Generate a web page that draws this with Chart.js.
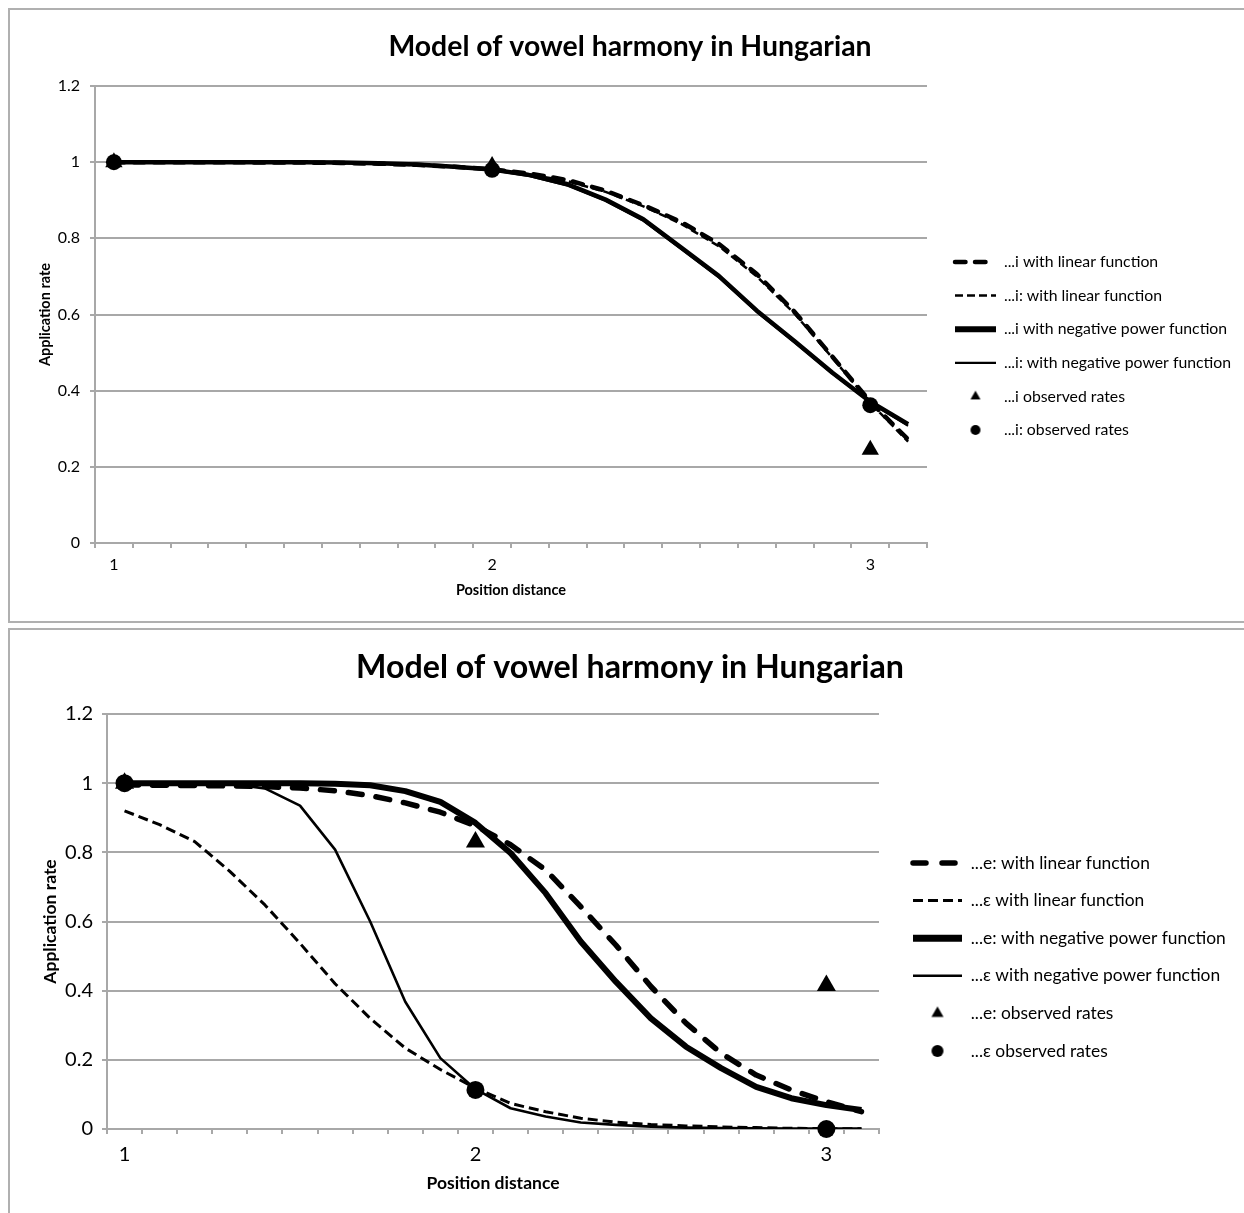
<!DOCTYPE html>
<html>
<head>
<meta charset="utf-8">
<script src="https://cdn.jsdelivr.net/npm/chart.js@4.4.1/dist/chart.umd.min.js"></script>
<style>
  html, body { margin: 0; padding: 0; background: #ffffff; width: 1244px; height: 1213px; overflow: hidden; position: relative; }
  .box { position: absolute; left: 8px; width: 1240px; border: 2px solid #b0b0b0; background: #fff; }
  #box1 { top: 8px; height: 611px; }
  #box2 { top: 628px; height: 600px; }
  canvas { display: block; }
</style>
</head>
<body>
<div class="box" id="box1"><canvas id="c1" width="1240" height="611"></canvas></div>
<div class="box" id="box2"><canvas id="c2" width="1240" height="583"></canvas></div>
<script>
// ---------------- DATA ----------------
const categories = ['1','1.1','1.2','1.3','1.4','1.5','1.6','1.7','1.8','1.9','2','2.1','2.2','2.3','2.4','2.5','2.6','2.7','2.8','2.9','3','3.1'];
const tickLabels = ['1','2','3'];
const yTicks = { min: 0, max: 1.2, step: 0.2 };

const chartTitle = 'Model of vowel harmony in Hungarian';
const xTitle = 'Position distance';
const yTitle = 'Application rate';

// top chart (i)
const topLabels = ['...i with linear function', '...i: with linear function', '...i with negative power function', '...i: with negative power function', '...i observed rates', '...i: observed rates'];
const iLinear        = [1.000, 1.000, 1.000, 1.000, 0.999, 0.999, 0.998, 0.996, 0.993, 0.988, 0.981, 0.970, 0.953, 0.925, 0.887, 0.843, 0.785, 0.706, 0.607, 0.489, 0.371, 0.272];
const iColonLinear   = [1.000, 1.000, 1.000, 1.000, 1.000, 0.999, 0.998, 0.996, 0.992, 0.987, 0.980, 0.968, 0.950, 0.922, 0.884, 0.838, 0.779, 0.700, 0.602, 0.486, 0.368, 0.266];
const iPower         = [1.000, 1.000, 1.000, 1.000, 1.000, 1.000, 0.999, 0.997, 0.994, 0.988, 0.981, 0.966, 0.942, 0.902, 0.850, 0.776, 0.701, 0.610, 0.530, 0.447, 0.371, 0.312];
const iColonPower    = [1.000, 1.000, 1.000, 1.000, 1.000, 1.000, 0.999, 0.997, 0.993, 0.987, 0.979, 0.963, 0.938, 0.898, 0.846, 0.772, 0.697, 0.607, 0.527, 0.445, 0.369, 0.308];
const iObserved      = [1.000, null, null, null, null, null, null, null, null, null, 0.990, null, null, null, null, null, null, null, null, null, 0.245, null];
const iColonObserved = [1.000, null, null, null, null, null, null, null, null, null, 0.980, null, null, null, null, null, null, null, null, null, 0.362, null];

// bottom chart (e / ɛ)
const bottomLabels = ['...e: with linear function', '...ɛ with linear function', '...e: with negative power function', '...ɛ with negative power function', '...e: observed rates', '...ɛ observed rates'];
const eLinear     = [0.995, 0.994, 0.993, 0.992, 0.990, 0.986, 0.978, 0.964, 0.943, 0.916, 0.877, 0.822, 0.749, 0.643, 0.532, 0.412, 0.306, 0.219, 0.156, 0.113, 0.079, 0.050];
const epsLinear   = [0.920, 0.880, 0.831, 0.745, 0.648, 0.537, 0.420, 0.320, 0.234, 0.172, 0.118, 0.074, 0.050, 0.031, 0.020, 0.013, 0.009, 0.006, 0.004, 0.002, 0.001, 0.001];
const ePower      = [1.000, 1.000, 1.000, 1.000, 1.000, 1.000, 0.998, 0.994, 0.977, 0.946, 0.885, 0.798, 0.682, 0.542, 0.426, 0.320, 0.238, 0.176, 0.122, 0.089, 0.069, 0.055];
const epsPower    = [1.000, 1.000, 1.000, 0.998, 0.985, 0.935, 0.808, 0.600, 0.368, 0.205, 0.115, 0.060, 0.036, 0.019, 0.012, 0.007, 0.004, 0.003, 0.002, 0.001, 0.001, 0.001];
const eObserved   = [1.000, null, null, null, null, null, null, null, null, null, 0.830, null, null, null, null, null, null, null, null, null, 0.415, null];
const epsObserved = [1.000, null, null, null, null, null, null, null, null, null, 0.113, null, null, null, null, null, null, null, null, null, 0.000, null];

// ---------------- STYLE / LAYOUT ----------------
const FONT = "Lato, 'Open Sans', 'DejaVu Sans', sans-serif";
const GRID = '#a8a8a8';
const CANVAS_W = 1240;

function markerCanvas(style, r) {
  const c = document.createElement('canvas');
  const s = Math.ceil(2 * r + 4);
  c.width = s; c.height = s;
  const g = c.getContext('2d');
  g.fillStyle = '#000';
  g.strokeStyle = '#000';
  if (Chart.helpers && Chart.helpers.drawPoint) {
    Chart.helpers.drawPoint(g, { pointStyle: style, radius: r, borderWidth: 0, rotation: 0 }, s / 2, s / 2);
  } else {
    g.beginPath();
    if (style === 'triangle') {
      for (let k = 0; k < 3; k++) {
        const a = k * 2 * Math.PI / 3;
        const px = s / 2 + Math.sin(a) * r, py = s / 2 - Math.cos(a) * r;
        k ? g.lineTo(px, py) : g.moveTo(px, py);
      }
      g.closePath();
    } else {
      g.arc(s / 2, s / 2, r, 0, Math.PI * 2);
    }
    g.fill();
  }
  return c;
}

function buildChart(canvasId, labels, seriesData, styles, L) {
  const datasets = seriesData.map((data, i) => {
    const st = styles[i];
    if (st.kind === 'line') {
      return {
        label: labels[i], data: data, borderColor: '#000', backgroundColor: '#000',
        borderWidth: st.width, borderDash: st.dash, borderCapStyle: st.cap, borderJoinStyle: 'round',
        pointRadius: 0, pointHoverRadius: 0, tension: 0, fill: false, order: 1
      };
    }
    return {
      label: labels[i], data: data, showLine: false, pointStyle: st.style,
      pointRadius: st.radius, pointHoverRadius: st.radius,
      pointBackgroundColor: '#000', pointBorderColor: '#000', pointBorderWidth: 0,
      borderColor: '#000', backgroundColor: '#000', order: 0, clip: false
    };
  });

  const legendMarkers = styles.map(st => st.kind === 'point' ? markerCanvas(st.style, st.legendRadius) : null);

  new Chart(document.getElementById(canvasId), {
    type: 'line',
    data: { labels: categories, datasets: datasets },
    options: {
      responsive: false,
      animation: false,
      devicePixelRatio: 1,
      events: [],
      layout: { padding: 0 },
      plugins: {
        tooltip: { enabled: false },
        title: {
          display: true, text: chartTitle, color: '#000',
          font: { family: FONT, size: L.titleSize, weight: 'bold' },
          padding: { top: L.titlePadTop, bottom: L.titlePadBottom }
        },
        legend: {
          display: true, position: 'right', align: 'center', maxWidth: 600,
          title: {
            display: true, text: ' ', color: '#fff',
            font: { family: FONT, size: L.legendSize },
            padding: { top: 0, bottom: L.legendTitleH - 1.2 * L.legendSize }
          },
          labels: {
            usePointStyle: true, pointStyleWidth: L.sampleW, boxHeight: 8,
            padding: L.legendPad, color: '#000',
            font: { family: FONT, size: L.legendSize },
            generateLabels: chart => chart.data.datasets.map((ds, i) => {
              const st = styles[i];
              if (st.kind === 'line') {
                return { text: ds.label, datasetIndex: i, hidden: false, pointStyle: 'line',
                  lineWidth: st.legendWidth || st.width, lineDash: st.legendDash || st.dash, lineCap: st.cap,
                  strokeStyle: '#000', fillStyle: '#000', fontColor: '#000' };
              }
              return { text: ds.label, datasetIndex: i, hidden: false, pointStyle: legendMarkers[i],
                lineWidth: 0, strokeStyle: '#000', fillStyle: '#000', fontColor: '#000' };
            })
          }
        }
      },
      scales: {
        x: {
          type: 'category', offset: true,
          grid: { display: true, offset: true, drawOnChartArea: false, drawTicks: true, tickLength: 5, color: GRID, lineWidth: 2 },
          border: { display: true, color: GRID, width: 2 },
          ticks: {
            autoSkip: false, maxRotation: 0, minRotation: 0, padding: L.xTickPad, color: '#000',
            font: { family: FONT, size: L.tickSize },
            callback: function (v, idx) { const lab = categories[idx]; return tickLabels.includes(lab) ? lab : ''; }
          },
          title: {
            display: true, text: xTitle, color: '#000',
            font: { family: FONT, size: L.axisTitleSize, weight: 'bold' },
            padding: { top: 0, bottom: L.xTitlePadBottom }
          },
          afterFit: s => { s.height = L.xAxisH; }
        },
        y: {
          type: 'linear', position: 'left', min: yTicks.min, max: yTicks.max,
          grid: { display: true, drawTicks: true, tickLength: 5, color: GRID, lineWidth: 2 },
          border: { display: true, color: GRID, width: 2 },
          ticks: {
            stepSize: yTicks.step, padding: L.yTickPad, color: '#000', font: { family: FONT, size: L.tickSize },
            callback: v => String(Number(v.toFixed(2)))
          },
          title: {
            display: true, text: yTitle, color: '#000',
            font: { family: FONT, size: L.axisTitleSize, weight: 'bold' },
            padding: { top: L.yTitlePadTop, bottom: 0 }
          },
          afterFit: s => { s.width = L.yAxisW; }
        },
        gapIn: {
          type: 'linear', position: 'right', display: true, weight: 0,
          grid: { display: false }, border: { display: false }, ticks: { display: false },
          afterFit: s => { s.width = L.gapIn; }
        },
        gapOut: {
          type: 'linear', position: 'right', display: true, weight: 2000,
          grid: { display: false }, border: { display: false }, ticks: { display: false },
          afterFit: s => { s.width = Math.max(0, CANVAS_W - L.plotRight - L.gapIn - s.chart.legend.width); }
        }
      }
    }
  });
}

// top chart
buildChart('c1', topLabels,
  [iLinear, iColonLinear, iPower, iColonPower, iObserved, iColonObserved],
  [
    { kind: 'line', width: 4.5, dash: [10.5, 9.5], cap: 'round', legendDash: [10.5, 9.5, 10.5, 60] },
    { kind: 'line', width: 2.5, dash: [8, 4], cap: 'butt' },
    { kind: 'line', width: 4.5, dash: [], cap: 'butt', legendWidth: 6 },
    { kind: 'line', width: 2.2, dash: [], cap: 'butt' },
    { kind: 'point', style: 'triangle', radius: 10, legendRadius: 5.8 },
    { kind: 'point', style: 'circle', radius: 8, legendRadius: 5 }
  ],
  {
    titleSize: 28.4, titlePadTop: 19.96, titlePadBottom: 21.96,
    legendSize: 15.8, legendPad: 17.8, legendTitleH: 61, sampleW: 41,
    gapIn: 10.2, plotRight: 917,
    tickSize: 16, xTickPad: 7.4, yTickPad: 10,
    axisTitleSize: 14.5, xTitlePadBottom: 22.3, yTitlePadTop: 26.3,
    xAxisH: 78, yAxisW: 85
  });

// bottom chart
buildChart('c2', bottomLabels,
  [eLinear, epsLinear, ePower, epsPower, eObserved, epsObserved],
  [
    { kind: 'line', width: 5.5, dash: [14, 14], cap: 'round', legendDash: [13, 16, 13, 60] },
    { kind: 'line', width: 3, dash: [10, 5], cap: 'butt' },
    { kind: 'line', width: 6, dash: [], cap: 'butt', legendWidth: 7 },
    { kind: 'line', width: 2.6, dash: [], cap: 'butt' },
    { kind: 'point', style: 'triangle', radius: 11, legendRadius: 7 },
    { kind: 'point', style: 'circle', radius: 9, legendRadius: 6 }
  ],
  {
    titleSize: 32.2, titlePadTop: 18.68, titlePadBottom: 26.68,
    legendSize: 17.4, legendPad: 20.2, legendTitleH: 71, sampleW: 49,
    gapIn: 13.8, plotRight: 869,
    tickSize: 20, xTickPad: 9, yTickPad: 9,
    axisTitleSize: 17.5, xTitlePadBottom: 19.5, yTitlePadTop: 29.5,
    xAxisH: 84, yAxisW: 97
  });
</script>
</body>
</html>
